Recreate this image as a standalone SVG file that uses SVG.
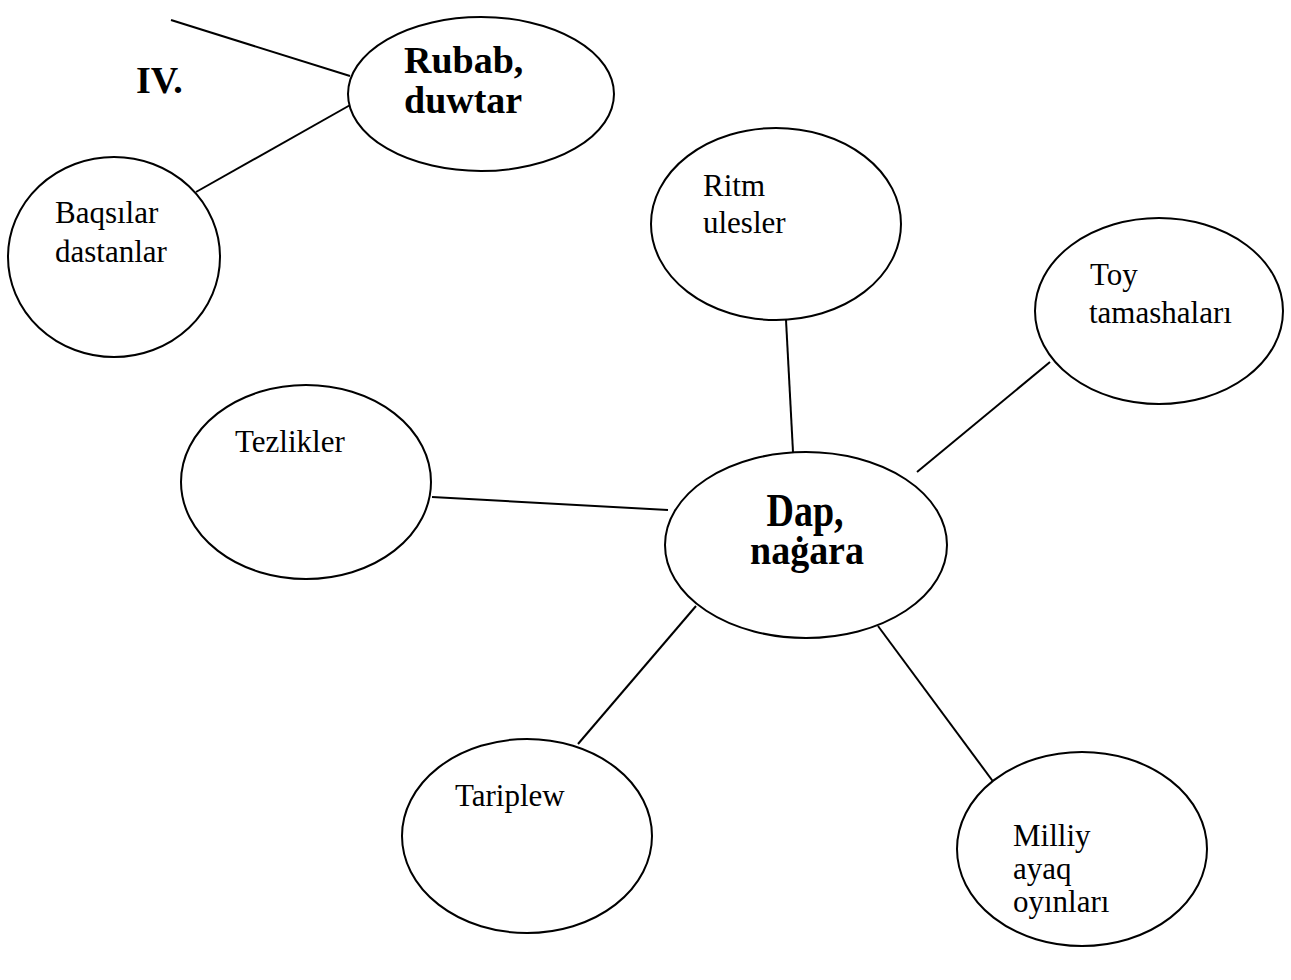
<svg xmlns="http://www.w3.org/2000/svg" width="1291" height="980" viewBox="0 0 1291 980">
<style>
.n{fill:#fff;stroke:#000;stroke-width:2}
.t{font-family:"Liberation Serif","Times New Roman",serif;font-size:31px;fill:#000}
.b{font-family:"Liberation Serif","Times New Roman",serif;font-size:38px;font-weight:bold;fill:#000}
.c line{stroke:#000;stroke-width:2}
</style>
<rect width="1291" height="980" fill="#fff"/>
<g id="connectors" class="c">
<line x1="171" y1="20" x2="350" y2="76"/>
<line x1="196" y1="192" x2="352" y2="104"/>
<line x1="786" y1="320" x2="793" y2="452"/>
<line x1="917" y1="472" x2="1050" y2="362"/>
<line x1="432" y1="497" x2="668" y2="510"/>
<line x1="578" y1="744" x2="696" y2="606"/>
<line x1="878" y1="626" x2="1006" y2="799"/>
</g>
<text id="label-iv" class="b" x="136" y="93">IV.</text>
<g id="rubab">
<ellipse class="n" cx="481" cy="94" rx="133" ry="77"/>
<text class="b" x="404" y="73">Rubab,</text>
<text class="b" x="404" y="113">duwtar</text>
</g>
<g id="baqsilar">
<ellipse class="n" cx="114" cy="257" rx="106" ry="100"/>
<text class="t" x="55" y="223">Baqsılar</text>
<text class="t" x="55" y="262">dastanlar</text>
</g>
<g id="ritm">
<ellipse class="n" cx="776" cy="224" rx="125" ry="96"/>
<text class="t" x="703" y="196">Ritm</text>
<text class="t" x="703" y="233">ulesler</text>
</g>
<g id="toy">
<ellipse class="n" cx="1159" cy="311" rx="124" ry="93"/>
<text class="t" x="1090" y="285">Toy</text>
<text class="t" x="1089" y="323">tamashaları</text>
</g>
<g id="tezlikler">
<ellipse class="n" cx="306" cy="482" rx="125" ry="97"/>
<text class="t" x="235" y="452">Tezlikler</text>
</g>
<g id="dap">
<ellipse class="n" cx="806" cy="545" rx="141" ry="93"/>
<text class="b" transform="translate(805,526) scale(1,1.2)" text-anchor="middle">Dap,</text>
<text class="b" transform="translate(807,564) scale(1,1.08)" text-anchor="middle">naġara</text>
</g>
<g id="tariplew">
<ellipse class="n" cx="527" cy="836" rx="125" ry="97"/>
<text class="t" x="455" y="806">Tariplew</text>
</g>
<g id="milliy">
<ellipse class="n" cx="1082" cy="849" rx="125" ry="97"/>
<text class="t" x="1013" y="846">Milliy</text>
<text class="t" x="1013" y="879">ayaq</text>
<text class="t" x="1013" y="912">oyınları</text>
</g>
</svg>
